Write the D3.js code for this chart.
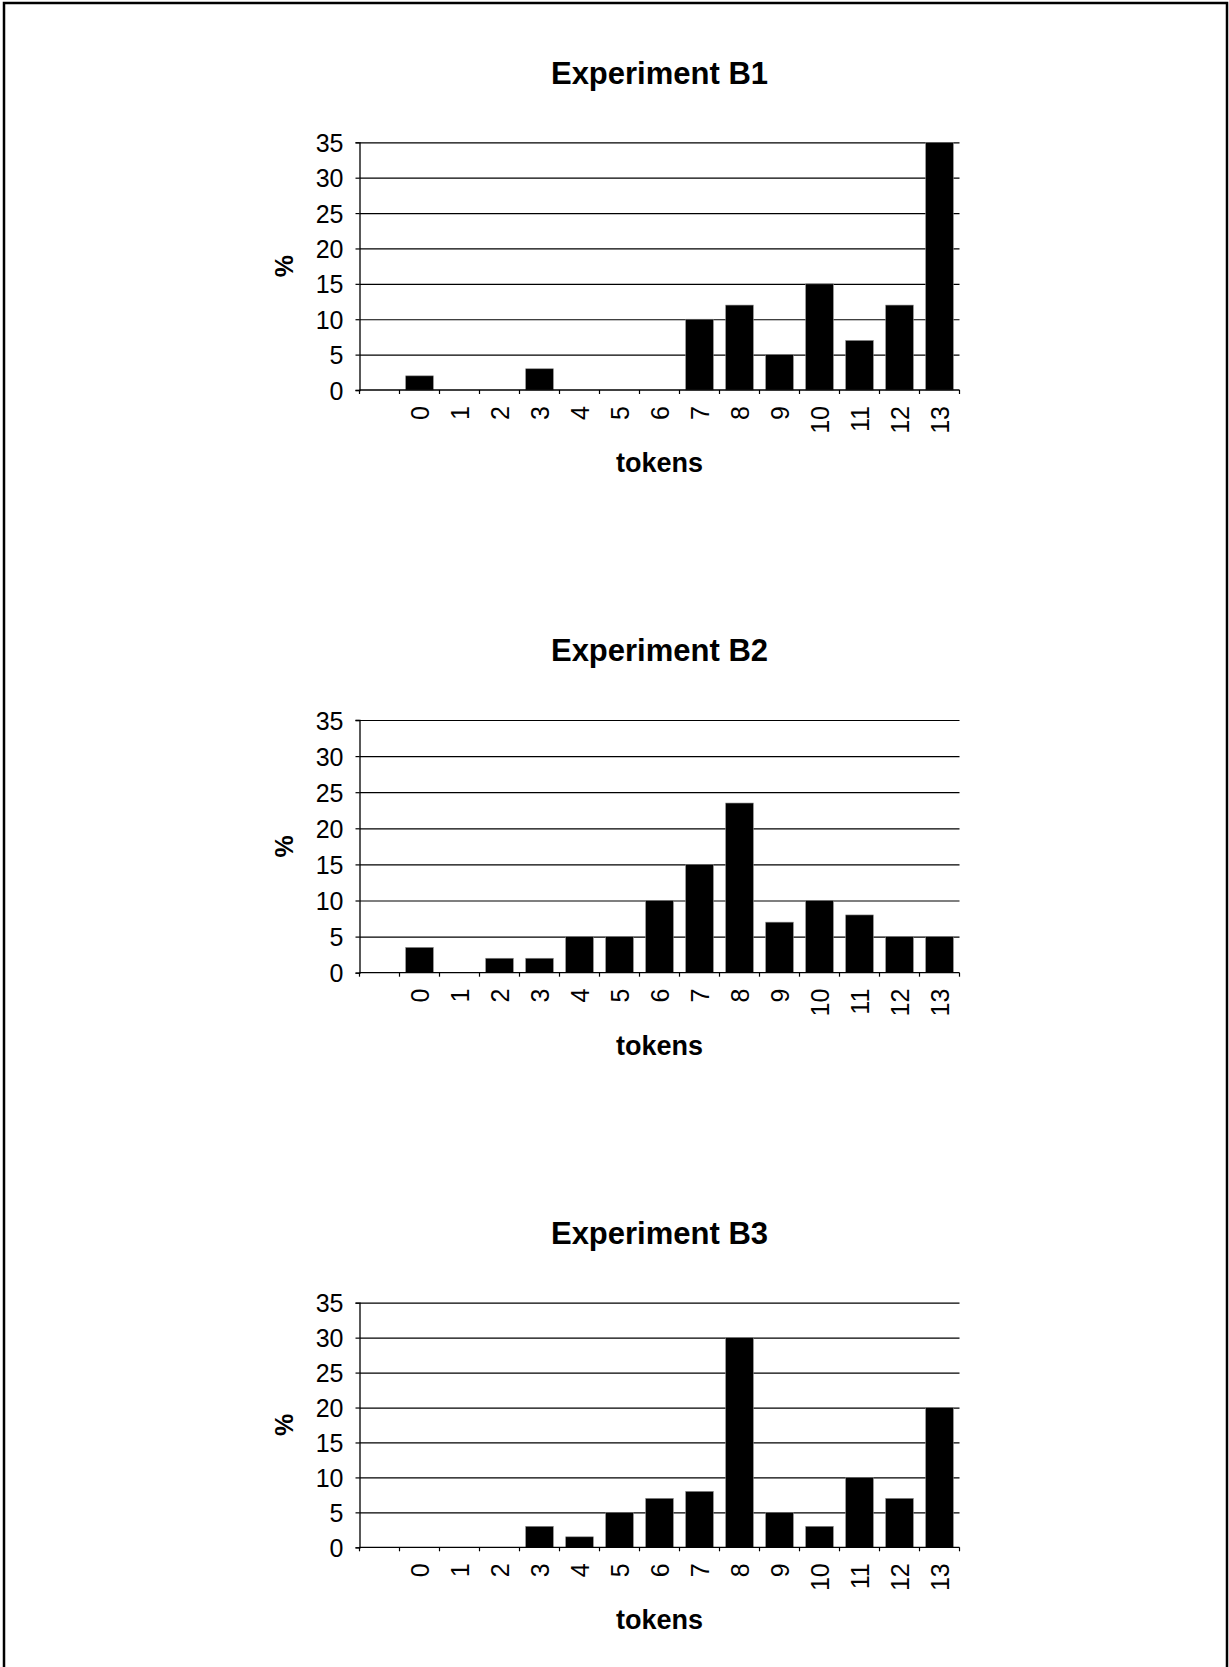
<!DOCTYPE html>
<html>
<head>
<meta charset="utf-8">
<script src="https://cdn.jsdelivr.net/npm/d3@7"></script>
<style>
  html, body { margin: 0; padding: 0; background: #fff; }
  svg { display: block; }
  text { font-family: "Liberation Sans", Arial, sans-serif; fill: #000; }
</style>
</head>
<body>
<svg id="chart" width="1229" height="1667"></svg>
<script>
// ---- data ----
const categories = ["0","1","2","3","4","5","6","7","8","9","10","11","12","13"];
const titles = ["Experiment B1", "Experiment B2", "Experiment B3"];
const valuesB1 = [2, 0, 0, 3, 0, 0, 0, 10, 12, 5, 15, 7, 12, 35];
const valuesB2 = [3.5, 0, 2, 2, 5, 5, 10, 15, 23.5, 7, 10, 8, 5, 5];
const valuesB3 = [0, 0, 0, 3, 1.5, 5, 7, 8, 30, 5, 3, 10, 7, 20];
const yTicks = [0, 5, 10, 15, 20, 25, 30, 35];
const xLabel = "tokens";
const yLabel = "%";

const series = [valuesB1, valuesB2, valuesB3];
// panel layout (plot area top/bottom, title baseline)
const panels = [
  { top: 142.3, bottom: 390,    titleY: 84 },
  { top: 720,   bottom: 972.7,  titleY: 661 },
  { top: 1302.7, bottom: 1547.3, titleY: 1244 }
];
const left = 359.5, right = 959.5;

const svg = d3.select("#chart");

// outer frame
svg.append("rect")
  .attr("x", 4).attr("y", 3)
  .attr("width", 1223).attr("height", 1700)
  .attr("fill", "none").attr("stroke", "#000").attr("stroke-width", 2.5);

const domain = [" "].concat(categories);
const x = d3.scaleBand().domain(domain).range([left, right]).paddingInner(0).paddingOuter(0);
const barW = x.bandwidth() * 0.69;

series.forEach((vals, i) => {
  const p = panels[i];
  const y = d3.scaleLinear().domain([0, 35]).range([p.bottom, p.top]);
  const g = svg.append("g");

  // title
  g.append("text")
    .attr("x", (left + right) / 2).attr("y", p.titleY)
    .attr("text-anchor", "middle")
    .attr("font-size", 31).attr("font-weight", "bold")
    .text(titles[i]);

  // gridlines
  const grid = g.append("g")
    .attr("transform", `translate(${left},0)`)
    .call(d3.axisLeft(y).tickValues(yTicks.filter(t => t > 0)).tickSize(-(right - left)).tickFormat(""));
  grid.select(".domain").remove();
  grid.selectAll("line").attr("stroke", "#000").attr("stroke-width", 1.2);

  // bars
  const data = categories.map((c, k) => ({ c, v: vals[k] }));
  g.selectAll("rect.bar").data(data).enter().append("rect")
    .attr("class", "bar")
    .attr("x", d => x(d.c) + (x.bandwidth() - barW) / 2)
    .attr("width", barW)
    .attr("y", d => y(d.v))
    .attr("height", d => y(0) - y(d.v))
    .attr("fill", "#000")
    .attr("stroke", "#888").attr("stroke-width", 0.6);

  // y axis
  const ya = g.append("g")
    .attr("transform", `translate(${left},0)`)
    .call(d3.axisLeft(y).tickValues(yTicks).tickSize(4).tickPadding(12));
  ya.select(".domain").attr("stroke", "#000").attr("stroke-width", 1.3);
  ya.selectAll("line").attr("stroke", "#000").attr("stroke-width", 1.2);
  ya.selectAll("text").attr("font-size", 25).attr("font-family", "Liberation Sans, Arial, sans-serif")
    .attr("fill", "#000").attr("dy", "0.36em");

  // x axis: labels at band centres
  const xa = g.append("g")
    .attr("transform", `translate(0,${p.bottom})`)
    .call(d3.axisBottom(x).tickValues(categories).tickSize(0).tickPadding(0));
  xa.select(".domain").remove();
  xa.selectAll("text")
    .attr("font-size", 25).attr("font-family", "Liberation Sans, Arial, sans-serif")
    .attr("fill", "#000")
    .attr("text-anchor", "end")
    .attr("transform", "rotate(-90)")
    .attr("x", -16).attr("y", 0).attr("dy", "0.36em");

  // x axis baseline and boundary ticks
  g.append("line")
    .attr("x1", left).attr("x2", right)
    .attr("y1", y(0)).attr("y2", y(0))
    .attr("stroke", "#000").attr("stroke-width", 1.3);
  const bounds = domain.map(d => x(d)).concat([right]);
  g.selectAll("line.xt").data(bounds).enter().append("line")
    .attr("class", "xt")
    .attr("x1", d => d).attr("x2", d => d)
    .attr("y1", y(0)).attr("y2", y(0) + 4)
    .attr("stroke", "#000").attr("stroke-width", 1.2);

  // axis titles
  g.append("text")
    .attr("x", (left + right) / 2).attr("y", p.bottom + 82)
    .attr("text-anchor", "middle")
    .attr("font-size", 27).attr("font-weight", "bold")
    .text(xLabel);
  g.append("text")
    .attr("transform", `translate(293,${(p.top + p.bottom) / 2}) rotate(-90)`)
    .attr("text-anchor", "middle")
    .attr("font-size", 25).attr("font-weight", "bold")
    .text(yLabel);
});
</script>
</body>
</html>
